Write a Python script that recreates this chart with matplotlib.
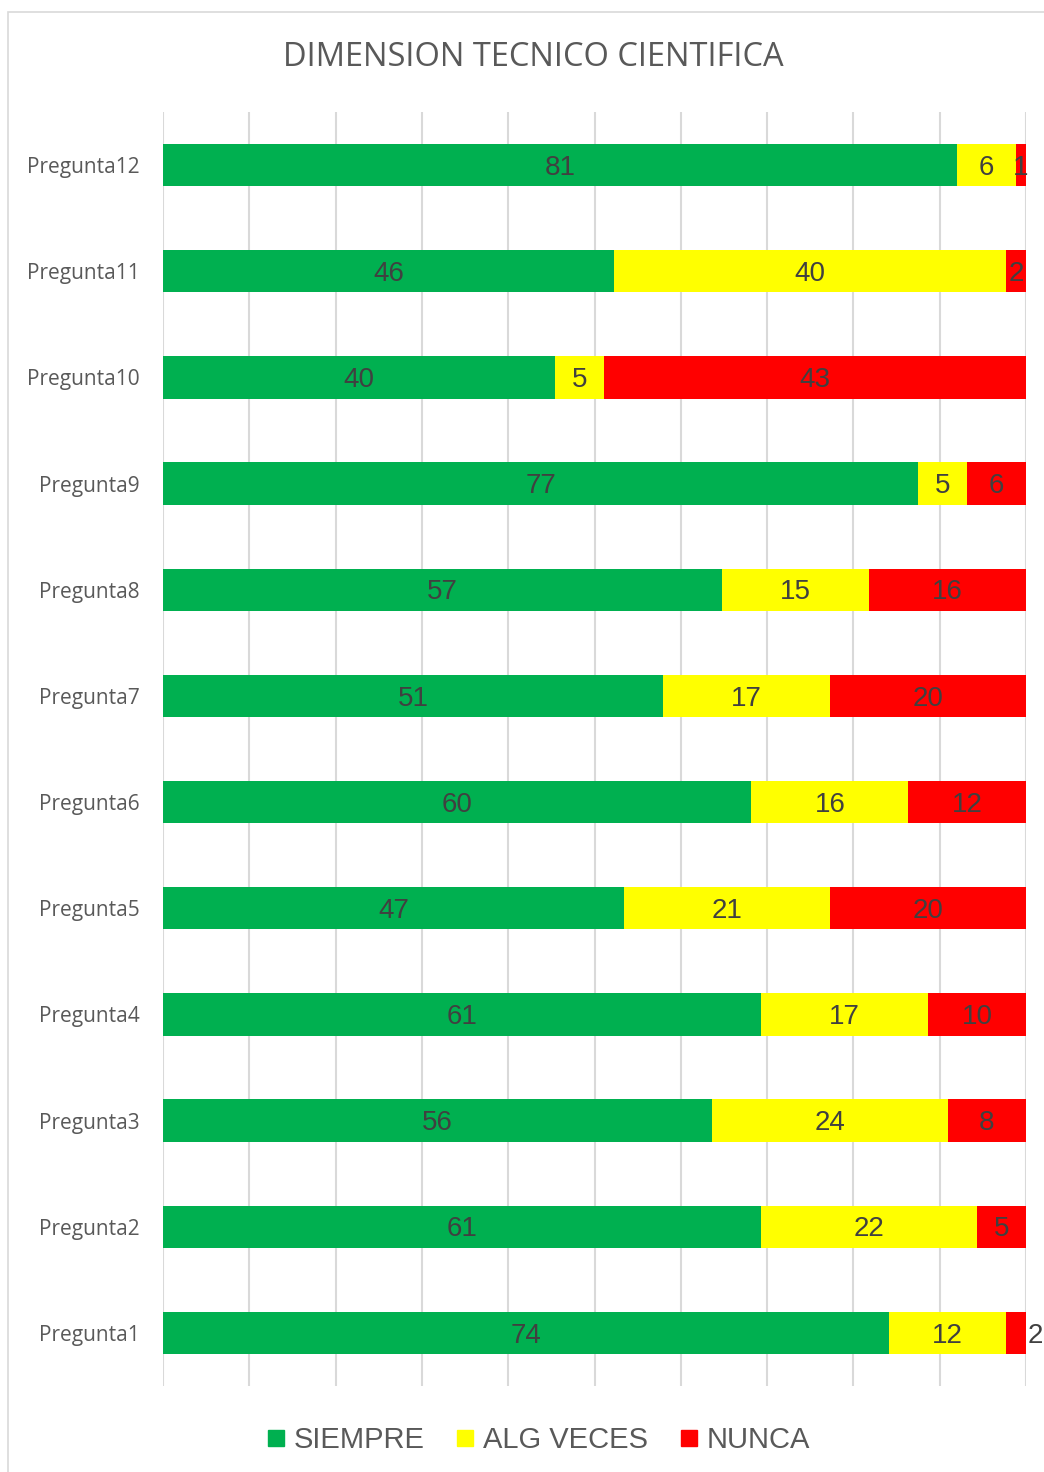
import numpy as np
import matplotlib
matplotlib.use("Agg")
import matplotlib.pyplot as plt
from matplotlib.patches import Rectangle
from matplotlib.lines import Line2D

preguntas = [f"Pregunta{i}" for i in range(1, 13)]
siempre = [74, 61, 56, 61, 47, 60, 51, 57, 77, 40, 46, 81]
alg_veces = [12, 22, 24, 17, 21, 16, 17, 15, 5, 5, 40, 6]
nunca = [2, 5, 8, 10, 20, 12, 20, 16, 6, 43, 2, 1]

series_names = ["SIEMPRE", "ALG VECES", "NUNCA"]
series_colors = ["#00B050", "#FFFF00", "#FF0000"]

TEXT_DARK = "#404040"
TEXT_GRAY = "#595959"
GRID = "#D9D9D9"


def main() -> None:
    fig = plt.figure(figsize=(10.44, 14.72), dpi=100)
    fig.patch.set_facecolor("white")

    # chart frame, only left and top edges fall inside the canvas
    fig.patches.append(Rectangle((8 / 1044, -0.05), 1.2, 1 - 12 / 1472 + 0.05,
                                 transform=fig.transFigure, fill=False,
                                 edgecolor=GRID, linewidth=1.2))

    ax = fig.add_axes([163 / 1044, 1 - 1386 / 1472, 863 / 1044, 1274 / 1472])

    y = np.arange(len(preguntas))
    data = [np.array(siempre), np.array(alg_veces), np.array(nunca)]
    total = data[0] + data[1] + data[2]
    full = float(total.max())

    left = np.zeros(len(preguntas))
    for name, vals, color in zip(series_names, data, series_colors):
        ax.barh(y, vals, left=left, height=0.4, color=color, zorder=2, label=name)
        for yi, (l, v) in enumerate(zip(left, vals)):
            x = l + v / 2
            # small last segment of Pregunta1 has its label pushed outside
            if name == "NUNCA" and yi == 0:
                x = l + v + 0.9
            ax.text(x, yi - 0.025, str(v), ha="center", va="center", fontsize=20,
                    color=TEXT_DARK, family="Liberation Sans", zorder=3)
        left = left + vals

    ax.set_xlim(0, full)
    ax.set_ylim(-0.5, len(preguntas) - 0.5)
    ax.set_xticks(np.linspace(0, full, 11))
    ax.set_xticklabels([])
    ax.tick_params(axis="x", length=0)
    ax.grid(axis="x", color=GRID, linewidth=1.5, zorder=0)
    ax.set_axisbelow(True)

    ax.set_yticks(y)
    ax.set_yticklabels(preguntas, fontsize=15, color=TEXT_GRAY, family="Open Sans")
    ax.tick_params(axis="y", length=0, pad=17)

    for s in ax.spines.values():
        s.set_visible(False)

    fig.text(0.5106, 1 - 58 / 1472, "DIMENSION TECNICO CIENTIFICA", ha="center",
             va="center", fontsize=23.5, color=TEXT_GRAY, family="Open Sans")

    handles = [Line2D([], [], marker="s", linestyle="none", markersize=11,
                      markerfacecolor=c, markeredgecolor=c) for c in series_colors]
    fig.legend(handles, series_names, loc="center", bbox_to_anchor=(537 / 1044, 1 - 1440 / 1472),
               ncol=3, frameon=False, labelcolor=TEXT_GRAY,
               prop={"family": "Liberation Sans", "size": 21},
               handletextpad=0.2, columnspacing=1.0, handlelength=0.8)

    fig.savefig("out.png", dpi=100)


if __name__ == "__main__":
    main()
